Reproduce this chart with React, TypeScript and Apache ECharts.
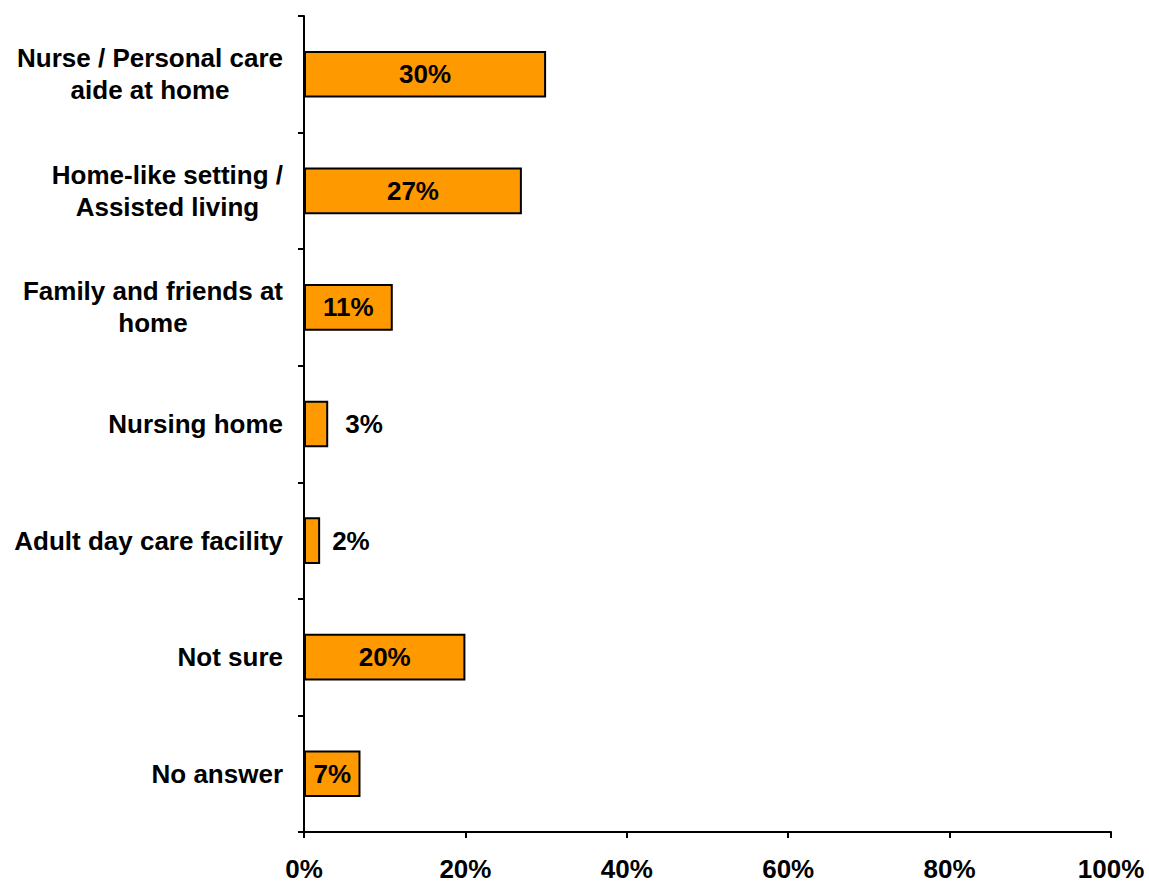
import React, { useEffect, useRef } from "react";
import * as echarts from "echarts";

const categories = [
  "Nurse / Personal care\naide at home",
  "Home-like setting /\nAssisted living",
  "Family and friends at\nhome",
  "Nursing home",
  "Adult day care facility",
  "Not sure",
  "No answer",
];
const values = [30, 27, 11, 3, 2, 20, 7];
const outsideLabel = [false, false, false, true, true, false, false];
const xTicks = { min: 0, max: 100, interval: 20 };

const FONT = "'Liberation Sans', Arial, sans-serif";

export default function App() {
  const ref = useRef<HTMLDivElement>(null);
  useEffect(() => {
    document.body.style.margin = "0";
    const chart = echarts.init(ref.current!, null, { renderer: "svg" });
    chart.setOption({
      animation: false,
      grid: { left: 304, right: 38, top: 16, bottom: 52, containLabel: false },
      xAxis: {
        type: "value",
        min: xTicks.min,
        max: xTicks.max,
        interval: xTicks.interval,
        splitLine: { show: false },
        axisLine: { show: true, lineStyle: { color: "#000", width: 2 } },
        axisTick: { show: true, length: 6, lineStyle: { color: "#000", width: 2 } },
        axisLabel: {
          formatter: "{value}%",
          color: "#000",
          fontWeight: "bold",
          fontSize: 26,
          fontFamily: FONT,
          margin: 24,
        },
      },
      yAxis: {
        type: "category",
        inverse: true,
        data: categories,
        axisLine: { show: true, lineStyle: { color: "#000", width: 2 } },
        axisTick: { show: true, length: 6, alignWithLabel: false, lineStyle: { color: "#000", width: 2 } },
        axisLabel: {
          color: "#000",
          fontWeight: "bold",
          fontSize: 26,
          fontFamily: FONT,
          margin: 21,
          lineHeight: 32,
          align: "right",
          formatter: (v: string) =>
            v
              .split("\n")
              .map((l) => `{c|${l}}`)
              .join("\n"),
          rich: {
            c: {
              color: "#000",
              fontWeight: "bold",
              fontSize: 26,
              fontFamily: FONT,
              lineHeight: 32,
              align: "center",
            },
          },
        },
      },
      series: [
        {
          type: "bar",
          barWidth: "40%",
          data: values.map((v, i) => ({
            value: v,
            label: outsideLabel[i]
              ? { position: "right", distance: i === 3 ? 17 : 12 }
              : { position: "inside" },
          })),
          itemStyle: { color: "#FF9900", borderColor: "#000", borderWidth: 2 },
          label: {
            show: true,
            formatter: "{c}%",
            color: "#000",
            fontWeight: "bold",
            fontSize: 26,
            fontFamily: FONT,
          },
        },
      ],
    });
    return () => chart.dispose();
  }, []);
  return <div ref={ref} style={{ width: 1149, height: 884 }} />;
}
